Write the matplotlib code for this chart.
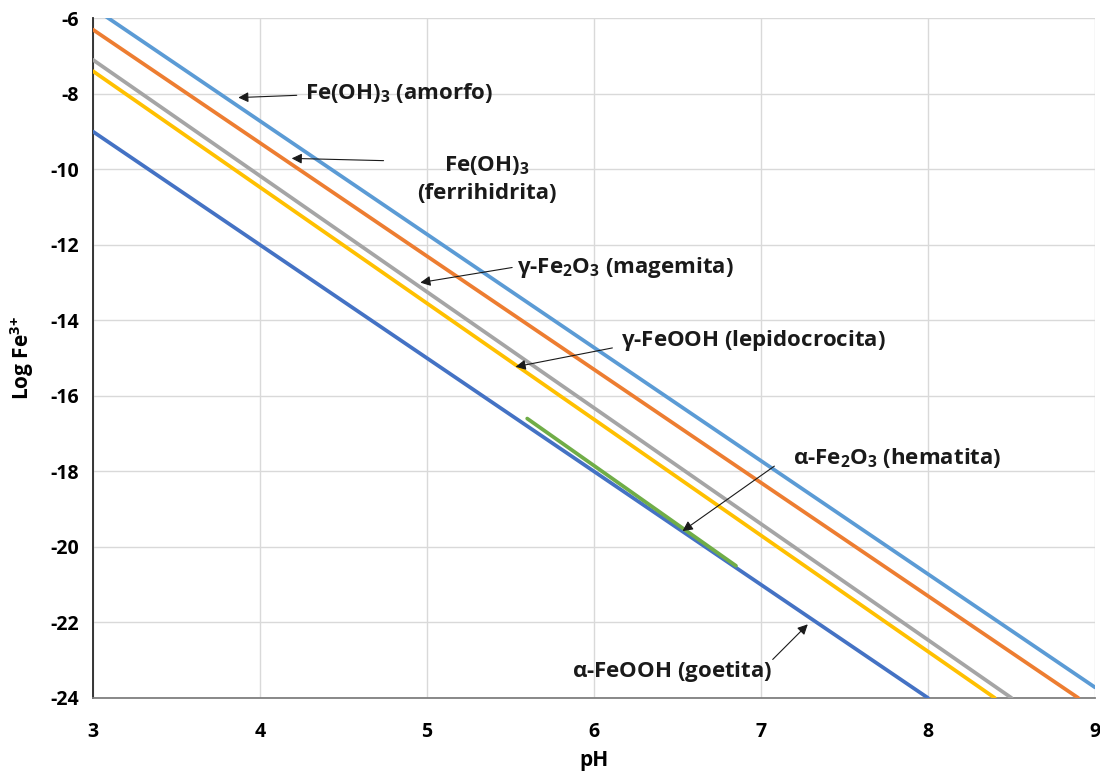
"""Solubility lines of Fe(III) oxides/hydroxides: log Fe3+ vs pH."""

import matplotlib
matplotlib.use("Agg")
import matplotlib.pyplot as plt

plt.rcParams["font.family"] = ["Open Sans", "DejaVu Sans"]
plt.rcParams["mathtext.default"] = "regular"
plt.rcParams["axes.unicode_minus"] = False

# pH / log Fe3+ pairs per phase
ph_amorfo = [3.0, 9.0]
fe_amorfo = [-5.72, -23.72]
ph_ferri = [3.0, 8.9]
fe_ferri = [-6.3, -24.0]
ph_mage = [3.0, 8.5]
fe_mage = [-7.1, -24.0]
ph_lepi = [3.0, 8.4]
fe_lepi = [-7.4, -24.0]
ph_goet = [3.0, 8.0]
fe_goet = [-9.0, -24.0]
ph_hema = [5.6, 6.85]
fe_hema = [-16.6, -20.5]

x_ticks = [3, 4, 5, 6, 7, 8, 9]
y_ticks = [-24, -22, -20, -18, -16, -14, -12, -10, -8, -6]

# label text, text position (pH, log), arrow tip (pH, log), alignment
labels = [
    (r"Fe(OH)$_3$ (amorfo)", (4.27, -7.98), (3.87, -8.1), "left"),
    ("Fe(OH)$_3$\n(ferrihidrita)", (5.36, -10.25), (4.19, -9.71), "center"),
    (r"$\gamma$-Fe$_2$O$_3$ (magemita)", (5.54, -12.6), (4.96, -13.0), "left"),
    (r"$\gamma$-FeOOH (lepidocrocita)", (6.16, -14.52), (5.53, -15.23), "left"),
    (r"$\alpha$-Fe$_2$O$_3$ (hematita)", (7.19, -17.64), (6.53, -19.58), "left"),
    (r"$\alpha$-FeOOH (goetita)", (5.87, -23.3), (7.28, -22.05), "left"),
]
arrow_tails = [(4.22, -8.04), (4.74, -9.77), (5.51, -12.6), (6.11, -14.73),
               (7.08, -17.86), (7.07, -22.98)]


def main() -> None:
    fig = plt.figure(figsize=(11, 7.75), dpi=100)
    ax = fig.add_axes([0.0845, 0.0994, 0.911, 0.877])

    lw = 2.7
    ax.plot(ph_amorfo, fe_amorfo, color="#5B9BD5", lw=lw, solid_capstyle="round", zorder=3)
    ax.plot(ph_ferri, fe_ferri, color="#ED7D31", lw=lw, solid_capstyle="round", zorder=3)
    ax.plot(ph_mage, fe_mage, color="#A5A5A5", lw=lw, solid_capstyle="round", zorder=3)
    ax.plot(ph_lepi, fe_lepi, color="#FFC000", lw=lw, solid_capstyle="round", zorder=3)
    ax.plot(ph_goet, fe_goet, color="#4472C4", lw=lw, solid_capstyle="round", zorder=3)
    ax.plot(ph_hema, fe_hema, color="#70AD47", lw=lw, solid_capstyle="round", zorder=4)

    for (txt, xy_text, xy_tip, ha), tail in zip(labels, arrow_tails):
        ax.text(xy_text[0], xy_text[1], txt, ha=ha, va="center", fontsize=16,
                fontweight="bold", color="#1a1a1a", linespacing=1.4, zorder=6)
        ax.annotate("", xy=xy_tip, xytext=tail,
                    arrowprops=dict(arrowstyle="-|>", color="#1a1a1a", lw=0.8,
                                    mutation_scale=15, shrinkA=0, shrinkB=0),
                    zorder=5)

    ax.set_xlim(3, 9)
    ax.set_ylim(-24, -6)
    ax.set_xticks(x_ticks)
    ax.set_yticks(y_ticks)
    ax.grid(True, color="#d9d9d9", lw=1.0, zorder=0)
    ax.set_axisbelow(True)
    ax.tick_params(length=0, labelsize=14, pad=17)
    ax.tick_params(axis="y", pad=10)
    for lab in ax.get_xticklabels() + ax.get_yticklabels():
        lab.set_fontweight("bold")
    for side in ("top", "right"):
        ax.spines[side].set_visible(False)
    ax.spines["left"].set_color("#262626")
    ax.spines["left"].set_linewidth(1.3)
    ax.spines["bottom"].set_color("#7f7f7f")
    ax.spines["bottom"].set_linewidth(1.3)

    ax.set_xlabel("pH", fontsize=15, fontweight="bold", labelpad=6)
    ax.set_ylabel("Log Fe$^{3{+}}$", fontsize=15, fontweight="bold", labelpad=10)

    fig.savefig("out.png", dpi=100)


if __name__ == "__main__":
    main()
